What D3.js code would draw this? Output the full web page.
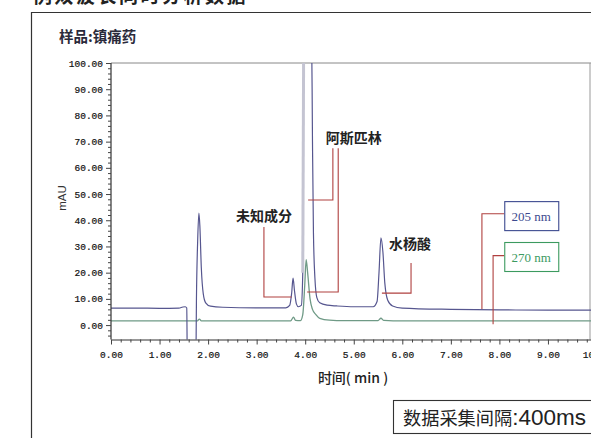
<!DOCTYPE html>
<html><head><meta charset="utf-8">
<script src="https://cdn.jsdelivr.net/npm/d3@7/dist/d3.min.js"></script>
<style>html,body{margin:0;padding:0;background:#fff;overflow:hidden}</style>
</head><body>
<svg id="c" width="591" height="438"></svg>
<script>
// ---- data ----
const title = "例双波长同时分析数据";
const sampleLabel = "样品:镇痛药";
const yLabel = "mAU";
const xLabel = "时间( min )";
const intervalCJK = "数据采集间隔";
const intervalValue = ":400ms";
const xTicks = [0,1,2,3,4,5,6,7,8,9,10];
const yTicks = [0,10,20,30,40,50,60,70,80,90,100];
const series205Name = "205 nm";
const series270Name = "270 nm";
// [time (min), absorbance (mAU)]
const trace205 = [[0,6.5],[0.5,6.5],[1.0,6.4],[1.4,6.5],[1.48,6.9],[1.53,7.0],[1.56,6.5],[1.575,-20],[1.745,-20],[1.76,10],[1.785,32],[1.81,42.7],[1.83,38],[1.86,22],[1.9,12],[1.95,8.5],[2.05,7.2],[2.3,6.8],[3.0,6.6],[3.6,6.6],[3.68,7.5],[3.72,12],[3.75,17.9],[3.78,13],[3.82,8],[3.86,7.0],[3.92,7.5],[3.95,20],[3.97,115],[4.13,115],[4.15,70],[4.17,35],[4.2,18],[4.24,10.5],[4.3,8.5],[4.45,7.6],[4.65,7.3],[5.0,7.0],[5.4,7.0],[5.48,9],[5.52,20],[5.56,33.3],[5.6,28],[5.64,16],[5.7,9.5],[5.8,7.3],[6.0,6.5],[7.0,6.0],[8.0,5.8],[9.0,5.7],[10.0,5.7]];
const trace270 = [[0,1.6],[1.5,1.6],[1.78,1.6],[1.82,2.3],[1.86,1.6],[3.7,1.6],[3.76,3.0],[3.8,1.8],[3.9,1.7],[3.95,4],[3.99,15],[4.02,25],[4.05,20],[4.1,10],[4.15,6],[4.22,4],[4.3,2.6],[4.5,1.9],[4.8,1.7],[5.5,1.7],[5.56,2.6],[5.62,1.8],[6,1.6],[10,1.6]];
const peakNames = ["未知成分","阿斯匹林","水杨酸"];
// label anchor (time, mAU)
const peakLabelPos = [[3.15,39.7],[5.0,69.4],[6.16,29.0]];
// leader polylines (time, mAU)
const leaders = [
  [[3.15,37.4],[3.15,10.7],[3.72,10.7]],
  [[4.57,67.5],[4.57,47.7],[4.06,47.7]],
  [[4.68,67.5],[4.68,12.6],[4.04,12.6]],
  [[6.18,23.7],[6.18,12.2],[5.58,12.2]],
  [[7.64,6.1],[7.64,42.5],[8.1,42.5]],
  [[7.87,0.3],[7.87,26.5],[8.1,26.5]]
];
// legend box tops (mAU) at time 8.1
const boxTops = [47.3, 31.7];

// ---- layout ----
const svg = d3.select("#c");
const L = 111, T = 63, R = 596.5, B = 339.5;
const x = d3.scaleLinear().domain([0,10]).range([L,R]);
const y = d3.scaleLinear().domain([-5.5,100]).range([B,T]);
const cjk = "'Noto Sans CJK SC','Noto Sans',sans-serif";
const mono = "'Liberation Mono','DejaVu Sans Mono',monospace";

svg.append("text").attr("x",33).attr("y",3).attr("font-family",cjk).attr("font-weight",700)
  .attr("font-size",19).attr("letter-spacing",2.5).attr("fill","#222").text(title);

svg.append("path").attr("d","M31.5,440V12.5H595").attr("fill","none").attr("stroke","#333").attr("stroke-width",1.2);

svg.append("text").attr("x",59).attr("y",42).attr("font-family",cjk).attr("font-weight",700)
  .attr("font-size",14.5).attr("fill","#2a2a3a").text(sampleLabel);

svg.append("clipPath").attr("id","pc").append("rect").attr("x",L).attr("y",T).attr("width",R-L).attr("height",B-T);

svg.append("line").attr("x1",L).attr("x2",591).attr("y1",T).attr("y2",T).attr("stroke","#888").attr("stroke-width",1);
svg.append("line").attr("x1",590).attr("x2",590).attr("y1",T).attr("y2",B).attr("stroke","#999").attr("stroke-width",1);

const line = d3.line().x(d=>x(d[0])).y(d=>y(d[1])).curve(d3.curveMonotoneX);
const g = svg.append("g").attr("clip-path","url(#pc)");
g.append("path").datum(trace270).attr("d",line).attr("fill","none").attr("stroke","#6f9a86").attr("stroke-width",1.3);
g.append("path").datum(trace205).attr("d",line).attr("fill","none").attr("stroke","#56568f").attr("stroke-width",1.2);
g.append("path").datum(trace205.filter(d=>d[0]>=3.95&&d[0]<=3.97)).attr("d",d3.line().x(d=>x(d[0])).y(d=>y(d[1])))
  .attr("fill","none").attr("stroke","#c4c4d2").attr("stroke-width",3);

const yAxis = d3.axisLeft(y).tickValues(yTicks).tickFormat(d3.format(".2f")).tickSize(5).tickSizeOuter(0);
const ya = svg.append("g").attr("transform",`translate(${L},0)`).call(yAxis);
const yMinor = d3.range(-4,100.1,2).filter(v=>v%10!==0);
svg.append("g").attr("transform",`translate(${L},0)`).call(d3.axisLeft(y).tickValues(yMinor).tickSize(3).tickFormat("").tickSizeOuter(0))
  .call(s=>s.select(".domain").remove());
ya.select(".domain").attr("d",`M0,${T}V${B}`);
const xAxis = d3.axisBottom(x).tickValues(xTicks).tickFormat(d3.format(".2f")).tickSize(5).tickSizeOuter(0);
const xa = svg.append("g").attr("transform",`translate(0,${B})`).call(xAxis);
const xMinor = d3.range(0,10.01,0.2).filter(v=>Math.abs(v-Math.round(v))>1e-6);
svg.append("g").attr("transform",`translate(0,${B})`).call(d3.axisBottom(x).tickValues(xMinor).tickSize(3).tickFormat("").tickSizeOuter(0))
  .call(s=>s.select(".domain").remove());
svg.selectAll(".tick text").attr("font-family",mono).attr("font-size",9.5).attr("fill","#111").attr("stroke","#111").attr("stroke-width",0.2);
svg.selectAll(".tick line").attr("stroke","#444");
svg.selectAll(".domain").attr("stroke","#333").attr("stroke-width",1.2);
xa.selectAll(".tick text").attr("dy","1.1em");

svg.append("text").attr("transform",`translate(66,198) rotate(-90)`).attr("text-anchor","middle")
  .attr("font-family","'Liberation Sans',Arial,sans-serif").attr("font-size",11.5).attr("fill","#333").text(yLabel);
svg.append("text").attr("x",353).attr("y",383).attr("text-anchor","middle").attr("font-family",cjk)
  .attr("font-size",14).attr("font-weight",500).attr("fill","#222").text(xLabel);

const red = "#b0403f";
const ll = d3.line().x(d=>x(d[0])).y(d=>y(d[1]));
leaders.forEach(p=>svg.append("path").attr("d",ll(p)).attr("fill","none").attr("stroke",red).attr("stroke-width",1.1));

peakNames.forEach((n,i)=>svg.append("text").attr("x",x(peakLabelPos[i][0])).attr("y",y(peakLabelPos[i][1])).attr("text-anchor","middle")
  .attr("font-family",cjk).attr("font-weight",700).attr("font-size",14).attr("fill","#222").text(n));

const boxes = [[series205Name,"#3d4a8f"],[series270Name,"#3c9a5f"]];
boxes.forEach(([n,c],i)=>{
  const bx = x(8.1), by = y(boxTops[i]);
  svg.append("rect").attr("x",bx+0.5).attr("y",by+0.5).attr("width",54).attr("height",29).attr("fill","#fff").attr("stroke",c).attr("stroke-width",1.1);
  svg.append("text").attr("x",bx+27).attr("y",by+19.5).attr("text-anchor","middle").attr("font-family","'Liberation Serif',serif")
    .attr("font-size",13).attr("fill",c).text(n);
});

svg.append("rect").attr("x",393.5).attr("y",400.5).attr("width",230).attr("height",33).attr("fill","#fff").attr("stroke","#333").attr("stroke-width",1.1);
const it = svg.append("text").attr("x",403).attr("y",425).attr("fill","#222");
it.append("tspan").attr("font-family",cjk).attr("font-size",18.2).text(intervalCJK);
it.append("tspan").attr("font-family","'Liberation Sans',Arial,sans-serif").attr("font-size",22.5).text(intervalValue);
</script>
</body></html>
